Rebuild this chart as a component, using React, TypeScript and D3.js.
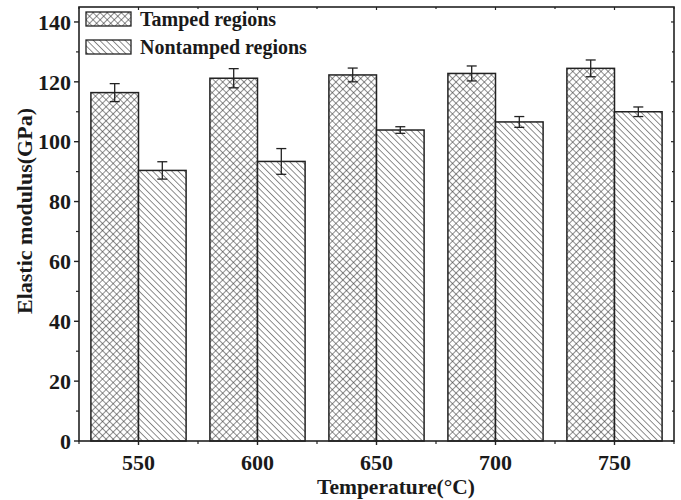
import React from "react";
import * as d3 from "d3";

const categories = [550, 600, 650, 700, 750];
const tamped = [116.4, 121.2, 122.3, 122.8, 124.5];
const tampedErr = [3.0, 3.2, 2.3, 2.5, 2.8];
const nontamped = [90.4, 93.4, 103.9, 106.6, 110.0];
const nontampedErr = [2.9, 4.3, 1.1, 1.8, 1.6];
const yTicks = [0, 20, 40, 60, 80, 100, 120, 140];
const yMinor = [10, 30, 50, 70, 90, 110, 130];
const seriesNames = ["Tamped regions", "Nontamped regions"];

const W = 681;
const H = 500;
const L = 79, R = 674, T = 7, B = 441;
const FONT = "'Liberation Serif', 'Times New Roman', serif";
const STROKE = "#222";

export default function App() {
  const x = d3.scaleLinear().domain([525, 775]).range([L, R]);
  const y = d3.scaleLinear().domain([0, 145]).range([B, T]);
  const bw = x(570) - x(550);
  const xMinor = [525, 575, 625, 675, 725, 775];

  const series = [
    { vals: tamped, errs: tampedErr, fill: "url(#cross)", off: -1 },
    { vals: nontamped, errs: nontampedErr, fill: "url(#diag)", off: 0 },
  ];

  return (
    <svg width={W} height={H} style={{ position: "absolute", left: 0, top: 0, background: "#fff" }} fontFamily={FONT}>
      <defs>
        <pattern id="cross" patternUnits="userSpaceOnUse" width={5} height={5} patternTransform="rotate(45)">
          <rect width={5} height={5} fill="#fff" />
          <line x1={0} y1={0} x2={0} y2={5} stroke="#333" strokeWidth={1.1} />
          <line x1={0} y1={0} x2={5} y2={0} stroke="#333" strokeWidth={1.1} />
        </pattern>
        <pattern id="diag" patternUnits="userSpaceOnUse" width={4.5} height={4.5} patternTransform="rotate(-45)">
          <rect width={4.5} height={4.5} fill="#fff" />
          <line x1={0} y1={0} x2={0} y2={4.5} stroke="#333" strokeWidth={1.1} />
        </pattern>
      </defs>
      <rect x={0} y={0} width={W} height={H} fill="#fff" />

      {/* bars */}
      {series.map((s, si) =>
        categories.map((c, i) => {
          const x0 = x(c) + s.off * bw;
          const v = s.vals[i];
          const e = s.errs[i];
          const cx = x0 + bw / 2;
          return (
            <g key={`${si}-${i}`}>
              <rect x={x0} y={y(v)} width={bw} height={B - y(v)} fill={s.fill} stroke={STROKE} strokeWidth={1.5} />
              <line x1={cx} x2={cx} y1={y(v + e)} y2={y(v - e)} stroke={STROKE} strokeWidth={1.3} />
              <line x1={cx - 5} x2={cx + 5} y1={y(v + e)} y2={y(v + e)} stroke={STROKE} strokeWidth={1.3} />
              <line x1={cx - 5} x2={cx + 5} y1={y(v - e)} y2={y(v - e)} stroke={STROKE} strokeWidth={1.3} />
            </g>
          );
        })
      )}

      {/* frame */}
      <rect x={L} y={T} width={R - L} height={B - T} fill="none" stroke={STROKE} strokeWidth={1.6} />

      {/* y ticks */}
      {yTicks.map((t) => (
        <g key={`yt${t}`}>
          <line x1={L - 5} x2={L} y1={y(t)} y2={y(t)} stroke={STROKE} strokeWidth={1.4} />
          <line x1={R - 3} x2={R} y1={y(t)} y2={y(t)} stroke={STROKE} strokeWidth={1.2} />
          <text x={L - 8} y={y(t)} dy="0.35em" textAnchor="end" fontSize={22} fontWeight="bold" fill="#1a1a1a">
            {t}
          </text>
        </g>
      ))}
      {yMinor.map((t) => (
        <g key={`ym${t}`}>
          <line x1={L - 3} x2={L} y1={y(t)} y2={y(t)} stroke={STROKE} strokeWidth={1.2} />
          <line x1={R - 2} x2={R} y1={y(t)} y2={y(t)} stroke={STROKE} strokeWidth={1.2} />
        </g>
      ))}

      {/* x ticks */}
      {categories.map((c) => (
        <g key={`xt${c}`}>
          <line x1={x(c)} x2={x(c)} y1={B} y2={B + 4} stroke={STROKE} strokeWidth={1.4} />
          <line x1={x(c)} x2={x(c)} y1={T} y2={T + 3} stroke={STROKE} strokeWidth={1.2} />
          <text x={x(c)} y={470} textAnchor="middle" fontSize={22} fontWeight="bold" fill="#1a1a1a">
            {c}
          </text>
        </g>
      ))}
      {xMinor.map((c) => (
        <g key={`xm${c}`}>
          <line x1={x(c)} x2={x(c)} y1={B} y2={B + 3} stroke={STROKE} strokeWidth={1.2} />
          <line x1={x(c)} x2={x(c)} y1={T} y2={T + 2} stroke={STROKE} strokeWidth={1.2} />
        </g>
      ))}

      {/* axis titles */}
      <text x={396} y={494} textAnchor="middle" fontSize={21.5} fontWeight="bold" fill="#1a1a1a">
        Temperature(°C)
      </text>
      <text transform={`translate(32, 211) rotate(-90)`} textAnchor="middle" fontSize={22} fontWeight="bold" fill="#1a1a1a">
        Elastic modulus(GPa)
      </text>

      {/* legend */}
      {seriesNames.map((n, i) => (
        <g key={n} transform={`translate(86, ${12 + i * 28})`}>
          <rect x={0} y={0} width={45} height={14} fill={i === 0 ? "url(#cross)" : "url(#diag)"} stroke={STROKE} strokeWidth={1.3} />
          <text x={54} y={7} dy="0.35em" fontSize={20} fontWeight="bold" fill="#1a1a1a">
            {n}
          </text>
        </g>
      ))}
    </svg>
  );
}
